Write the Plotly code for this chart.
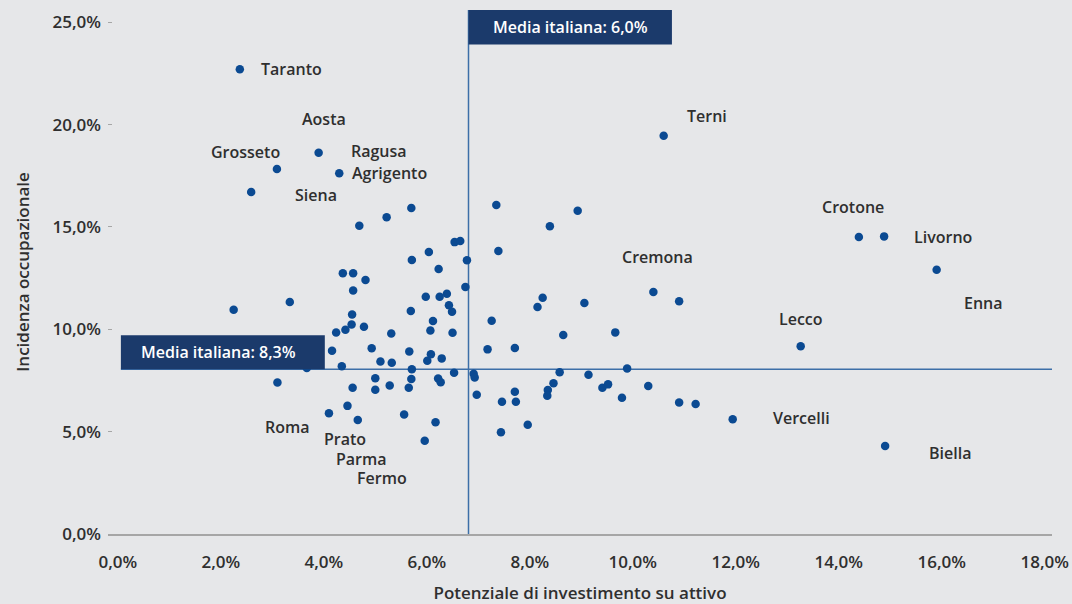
import plotly.graph_objects as go

# Potenziale di investimento su attivo (%) / Incidenza occupazionale (%)
potenziale = [
    2.37, 3.90, 3.09, 4.30, 2.59, 5.70, 5.22, 4.69, 6.54, 6.65,
    6.04, 5.71, 6.23, 6.78, 4.37, 4.57, 4.81, 4.57, 3.34, 2.25,
    6.75, 5.98, 6.25, 6.39, 6.43, 6.49, 5.69, 4.55, 6.12, 4.54,
    4.42, 4.24, 4.78, 5.31, 6.07, 6.50, 4.16, 4.93, 5.66, 6.08,
    6.01, 6.29, 5.10, 5.32, 4.35, 3.67, 5.71, 5.00, 5.70, 6.22,
    6.27, 6.53, 6.91, 6.93, 6.97, 3.10, 4.56, 5.00, 5.28, 5.65,
    4.46, 4.10, 4.66, 5.56, 6.17, 5.96, 7.35, 8.93, 8.39, 7.39,
    10.40, 10.90, 8.25, 8.15, 9.06, 7.26, 8.65, 9.66, 7.18, 7.71,
    9.89, 8.58, 9.14, 8.46, 8.35, 8.34, 7.71, 7.73, 7.46, 9.41,
    9.52, 9.79, 10.30, 10.90, 11.22, 11.94, 7.96, 7.44, 10.60, 14.39,
    14.88, 15.90, 13.26, 14.90,
]
incidenza = [
    22.70, 18.63, 17.83, 17.62, 16.71, 15.93, 15.47, 15.06, 14.26, 14.31,
    13.78, 13.39, 12.95, 13.37, 12.74, 12.74, 12.41, 11.90, 11.33, 10.96,
    12.07, 11.59, 11.59, 11.74, 11.17, 10.86, 10.89, 10.72, 10.41, 10.24,
    9.98, 9.84, 10.12, 9.79, 9.94, 9.83, 8.95, 9.07, 8.92, 8.78,
    8.46, 8.58, 8.43, 8.37, 8.20, 8.11, 8.05, 7.61, 7.57, 7.60,
    7.41, 7.88, 7.83, 7.65, 6.80, 7.40, 7.15, 7.05, 7.26, 7.15,
    6.26, 5.90, 5.57, 5.84, 5.46, 4.56, 16.07, 15.79, 15.03, 13.83,
    11.82, 11.37, 11.54, 11.09, 11.28, 10.42, 9.72, 9.85, 9.02, 9.09,
    8.09, 7.90, 7.78, 7.36, 7.03, 6.76, 6.95, 6.46, 6.46, 7.15,
    7.31, 6.66, 7.23, 6.43, 6.35, 5.61, 5.34, 4.97, 19.46, 14.51,
    14.54, 12.91, 9.17, 4.30,
]

# city labels and where their text sits
province = ['Taranto', 'Aosta', 'Grosseto', 'Ragusa', 'Agrigento', 'Siena',
            'Roma', 'Prato', 'Parma', 'Fermo', 'Cremona', 'Terni', 'Crotone',
            'Livorno', 'Enna', 'Lecco', 'Vercelli', 'Biella']
label_x = [2.74, 3.53, 1.77, 4.49, 4.50, 3.40, 2.82, 3.96, 4.19, 4.60,
           9.76, 11.01, 13.64, 15.43, 16.39, 12.80, 12.68, 15.72]
label_y = [22.70, 20.26, 18.66, 18.70, 17.66, 16.56, 5.21, 4.66, 3.66, 2.74,
           13.55, 20.42, 15.96, 14.49, 11.27, 10.49, 5.65, 3.94]

media_x = 6.81   # where the vertical reference line is drawn
media_y = 8.05   # where the horizontal reference line is drawn
x_ticks = [0, 2, 4, 6, 8, 10, 12, 14, 16, 18]
y_ticks = [0, 5, 10, 15, 20, 25]


def pct(v):
    return f'{v:.1f}'.replace('.', ',') + '%'


FONT = 'Open Sans'
TEXT = '#2f2f2f'
NAVY = '#1b3a6b'
LINE = '#3d6fa8'
BG = '#e6e7e9'

fig = go.Figure(go.Scatter(
    x=potenziale, y=incidenza, mode='markers',
    marker=dict(size=8.5, color='#0b4a92'),
    hoverinfo='x+y'))

for name, lx, ly in zip(province, label_x, label_y):
    fig.add_annotation(x=lx, y=ly, text=name, showarrow=False,
                       xanchor='left', yanchor='middle',
                       font=dict(family=FONT, size=16, color=TEXT, weight=600))

# reference lines
fig.add_shape(type='line', x0=media_x, x1=media_x, y0=0, y1=25.6,
              line=dict(color=LINE, width=1.5), layer='below')
fig.add_shape(type='line', x0=0.06, x1=18.14, y0=media_y, y1=media_y,
              line=dict(color=LINE, width=1.5), layer='below')

# label boxes
fig.add_shape(type='rect', x0=media_x, x1=10.76, y0=23.92, y1=25.6,
              fillcolor=NAVY, line=dict(width=0))
fig.add_annotation(x=(media_x + 10.76) / 2, y=24.76, text='Media italiana: 6,0%',
                   showarrow=False, xanchor='center', yanchor='middle',
                   font=dict(family=FONT, size=16, color='white', weight=600))
fig.add_shape(type='rect', x0=0.06, x1=4.02, y0=media_y, y1=9.71,
              fillcolor=NAVY, line=dict(width=0))
fig.add_annotation(x=0.42, y=8.88, text='Media italiana: 8,3%',
                   showarrow=False, xanchor='left', yanchor='middle',
                   font=dict(family=FONT, size=16, color='white', weight=600))

fig.update_layout(
    width=1072, height=604,
    margin=dict(l=108, r=20, t=10, b=70),
    paper_bgcolor=BG, plot_bgcolor=BG,
    showlegend=False,
    font=dict(family=FONT, size=17, color=TEXT, weight=600),
)
fig.update_xaxes(
    range=[-0.19, 18.14], tickvals=x_ticks, ticktext=[pct(v) for v in x_ticks],
    showgrid=False, zeroline=False, showline=True, linecolor='#a6a6a6', linewidth=1.5,
    ticks='', ticklabelstandoff=12, automargin=False,
    title=dict(text='Potenziale di investimento su attivo', standoff=18,
               font=dict(family=FONT, size=17, color=TEXT, weight=600)),
)
fig.update_yaxes(
    range=[0, 25.6], tickvals=y_ticks, ticktext=[pct(v) for v in y_ticks],
    showgrid=False, zeroline=False, showline=False, automargin=False,
    ticks='inside', ticklen=4, tickcolor='#a6a6a6', ticklabelstandoff=6,
    title=dict(text='Incidenza occupazionale', standoff=18,
               font=dict(family=FONT, size=17, color=TEXT, weight=600)),
)

fig.write_html('out.html', config={'displayModeBar': False},
               post_script="document.body.style.margin='0';")
